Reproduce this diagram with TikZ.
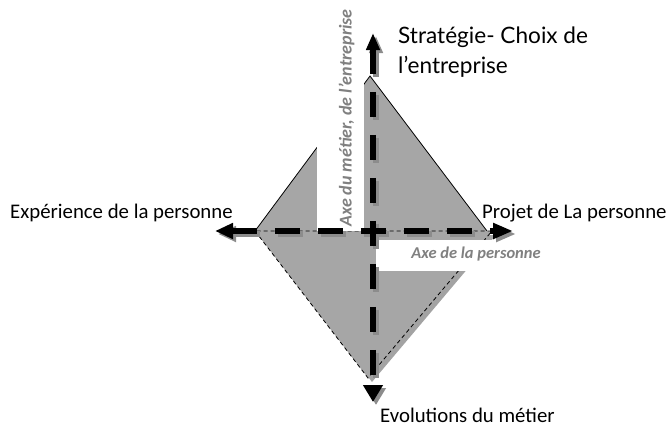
\documentclass[tikz,border=0pt]{standalone}
\usepackage{fontspec}
\setmainfont{Carlito}
\newfontfamily\stratfont{Lato}
\usetikzlibrary{arrows.meta}

\definecolor{shapegrey}{HTML}{A6A6A6}
\definecolor{shadowgrey}{HTML}{8C8C8C}
\definecolor{labelgrey}{HTML}{808080}

\begin{document}
\begin{tikzpicture}[
    x=1pt, y=-1pt,
    axis/.style={
      line width=6pt,
      dash pattern=on 25pt off 18pt
    },
    axisshadow/.style={
      axis,
      draw=shadowgrey,
      transform canvas={xshift=3pt, yshift=-3pt}
    },
    zone/.style={
      fill=shapegrey,
      line width=0.8pt
    },
    caption/.style={
      font=\fontsize{20.8}{24}\selectfont,
      inner sep=0pt
    },
    axislabel/.style={
      fill=white,
      inner sep=0pt,
      text=labelgrey
    }
  ]
    \useasboundingbox (0,0) rectangle (666,423);

    % Corners of the two triangles
    \coordinate (apex) at (370,76);
    \coordinate (west) at (255,231);
    \coordinate (east) at (487,231);
    \coordinate (lowest) at (368,378);
    \coordinate (loweast) at (492,231);

    % Axis ends
    \coordinate (left) at (215,231);
    \coordinate (right) at (513,231);
    \coordinate (top) at (373,33);
    \coordinate (bottom) at (373,402);

    % Upper triangle
    \draw[zone] (west) -- (apex) -- (east);

    % Lower triangle with its shadow
    \fill[shadowgrey!80, transform canvas={xshift=4pt, yshift=-4pt}] (west) -- (lowest) -- (loweast) -- cycle;
    \fill[shapegrey] (west) -- (lowest) -- (loweast) -- cycle;
    \draw[line width=0.8pt, dash pattern=on 4pt off 3pt] (west) -- (lowest) -- (loweast) -- cycle;

    % Axis labels
    \node[axislabel, rotate=90, minimum width=226pt, text height=35pt, text depth=12pt,
      font=\fontsize{18}{20}\selectfont\bfseries\itshape]
      (metier) at (340,118) {Axe du métier, de l’entreprise};
    \node[axislabel, minimum width=200pt, text height=18pt, text depth=13pt,
      font=\fontsize{16.5}{18}\selectfont\bfseries\itshape]
      (personne) at (476,255.5) {Axe de la personne};

    % Axes: shadow first, then black
    \draw[axisshadow, {Triangle[length=18pt,width=15pt]}-{Triangle[length=20pt,width=15pt]}] (left) -- (right);
    \draw[axisshadow, {Triangle[length=17pt,width=13pt]}-{Triangle[length=17pt,width=19pt]}] (top) -- (bottom);
    \draw[axis, {Triangle[length=18pt,width=15pt]}-{Triangle[length=20pt,width=15pt]}] (left) -- (right);
    \draw[axis, {Triangle[length=17pt,width=13pt]}-{Triangle[length=17pt,width=19pt]}] (top) -- (bottom);

    % End captions
    \node[caption, anchor=base west] (experience) at (10,218) {Expérience de la personne};
    \node[caption, anchor=base west] (projet) at (482,218) {Projet de La personne};
    \node[caption, anchor=base west] (evolutions) at (380,422) {Evolutions du métier};
    \node[caption, anchor=base west, align=left, font=\stratfont\fontsize{22.6}{30}\selectfont]
      (strategie) at (398,73) {Stratégie- Choix de\\l’entreprise};

  \end{tikzpicture}
\end{document}
